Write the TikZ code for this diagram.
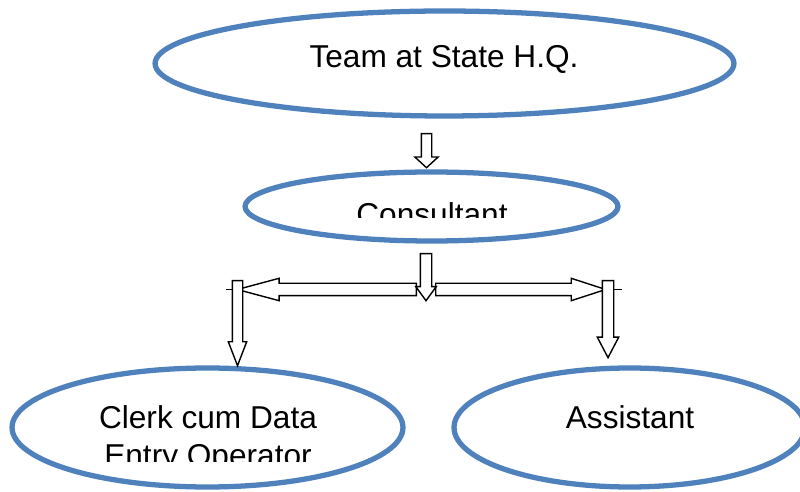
\documentclass[tikz,border=0pt]{standalone}
\usepackage{fontspec}
\setmainfont{Liberation Sans}
\usepackage{xcolor}
\usetikzlibrary{positioning,shapes,arrows}
\definecolor{ovalblue}{HTML}{4F81BD}

\begin{document}
\begin{tikzpicture}
            [x=0.02cm,y=-0.02cm,
             oval/.style={draw=ovalblue, ellipse, line width=3pt, fill=white, inner sep=0pt},
             lbl/.style={anchor=base, inner sep=0pt, font=\fontsize{18}{21.5}\selectfont},
             blk/.style={single arrow, draw, fill=white, line width=0.8pt, inner sep=0pt,
                         text depth=0pt, single arrow head indent=0pt, anchor=tail}]
            \useasboundingbox (0,0) rectangle (800,492);
            \clip (0,0) rectangle (800,492);

            % ovals
            \node[oval, minimum width=11.58cm, minimum height=2.1cm] (team) at (444.5,63.5) {};
            \node[oval, minimum width=7.46cm, minimum height=1.38cm] (cons) at (431.5,206.5) {};
            \node[oval, minimum width=7.82cm, minimum height=2.38cm] (clerk) at (207.5,427.5) {};
            \node[oval, minimum width=7.02cm, minimum height=2.38cm] (asst) at (629.5,427.5) {};

            % texts
            \node[lbl] (teamt) at (444,68) {Team at State H.Q.};
            \node[lbl] (asstt) at (630,429) {Assistant};
            \begin{scope}
              \clip (300,150) rectangle (560,218);
              \node[lbl] (const) at (432,226) {Consultant};
            \end{scope}
            \begin{scope}
              \clip (60,380) rectangle (360,461);
              \node[lbl, align=center] (clerkt) at (208,466) {Clerk cum Data\\Entry Operator};
            \end{scope}

            % thin line behind the arrows
            \coordinate (lend) at (226,289.5);
            \coordinate (rend) at (622,289.5);
            \draw[line width=0.6pt] (lend) -- (rend);

            % block arrows
            \node[blk, rotate=180, text height=0.22cm, minimum height=3.58cm,
                  single arrow head extend=0.1cm, single arrow tip angle=30] (arrl) at (417,289.5) {};
            \node[blk, text height=0.22cm, minimum height=3.4cm,
                  single arrow head extend=0.1cm, single arrow tip angle=36] (arrr) at (435,289.5) {};
            \node[blk, rotate=-90, text height=0.18cm, minimum height=0.68cm,
                  single arrow head extend=0.13cm, single arrow tip angle=95] (arr1) at (426.5,133) {};
            \node[blk, rotate=-90, text height=0.2cm, minimum height=0.94cm,
                  single arrow head extend=0.09cm, single arrow tip angle=72] (arr2) at (426,253) {};
            \node[blk, rotate=-90, text height=0.18cm, minimum height=1.7cm,
                  single arrow head extend=0.08cm, single arrow tip angle=42] (arrdl) at (237.5,280) {};
            \node[blk, rotate=-90, text height=0.2cm, minimum height=1.54cm,
                  single arrow head extend=0.1cm, single arrow tip angle=55] (arrdr) at (608,280) {};
          \end{tikzpicture}
\end{document}
